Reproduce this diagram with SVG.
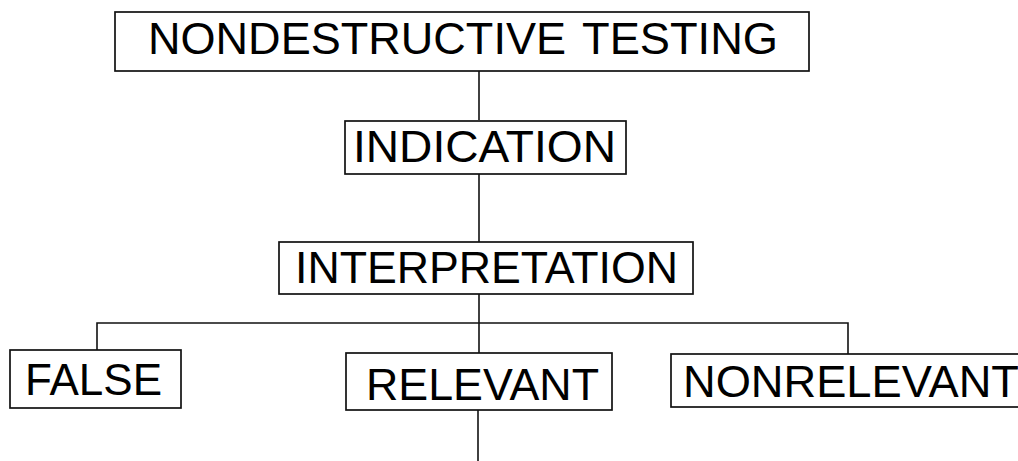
<svg xmlns="http://www.w3.org/2000/svg" width="1018" height="461" viewBox="0 0 1018 461">
<style>
.box{fill:#fff;stroke:#111;stroke-width:1.7}
.lbl{font-family:"Liberation Sans",Arial,Helvetica,sans-serif;fill:#000;font-size:44px}
.con{fill:none;stroke:#111;stroke-width:1.6}
</style>
<rect width="1018" height="461" fill="#fff"/>
<g id="connectors">
<line class="con" x1="479" y1="71" x2="479" y2="120"/>
<line class="con" x1="479" y1="174" x2="479" y2="242"/>
<line class="con" x1="479" y1="294" x2="479" y2="353"/>
<polyline class="con" points="97,350 97,323 848,323 848,354"/>
<line class="con" x1="478" y1="410" x2="478" y2="461"/>
</g>
<g id="node-ndt">
<rect class="box" x="115" y="12" width="694" height="59"/>
<text class="lbl" x="148" y="54" textLength="418" lengthAdjust="spacingAndGlyphs">NONDESTRUCTIVE</text>
<text class="lbl" x="582" y="54" textLength="196" lengthAdjust="spacingAndGlyphs">TESTING</text>
</g>
<g id="node-indication">
<rect class="box" x="345" y="121" width="281" height="53"/>
<text class="lbl" x="353" y="162" textLength="263" lengthAdjust="spacingAndGlyphs">INDICATION</text>
</g>
<g id="node-interpretation">
<rect class="box" x="279" y="242" width="414" height="52"/>
<text class="lbl" x="295" y="283" textLength="383" lengthAdjust="spacingAndGlyphs">INTERPRETATION</text>
</g>
<g id="node-false">
<rect class="box" x="10" y="350" width="171" height="58"/>
<text class="lbl" x="25" y="395" textLength="137" lengthAdjust="spacingAndGlyphs">FALSE</text>
</g>
<g id="node-relevant">
<rect class="box" x="346" y="353" width="266" height="57"/>
<text class="lbl" x="366" y="400" font-size="43" textLength="233" lengthAdjust="spacingAndGlyphs">RELEVANT</text>
</g>
<g id="node-nonrelevant">
<rect class="box" x="671" y="354" width="360" height="53"/>
<text class="lbl" x="683" y="397" font-size="43" textLength="336" lengthAdjust="spacingAndGlyphs">NONRELEVANT</text>
</g>
</svg>
